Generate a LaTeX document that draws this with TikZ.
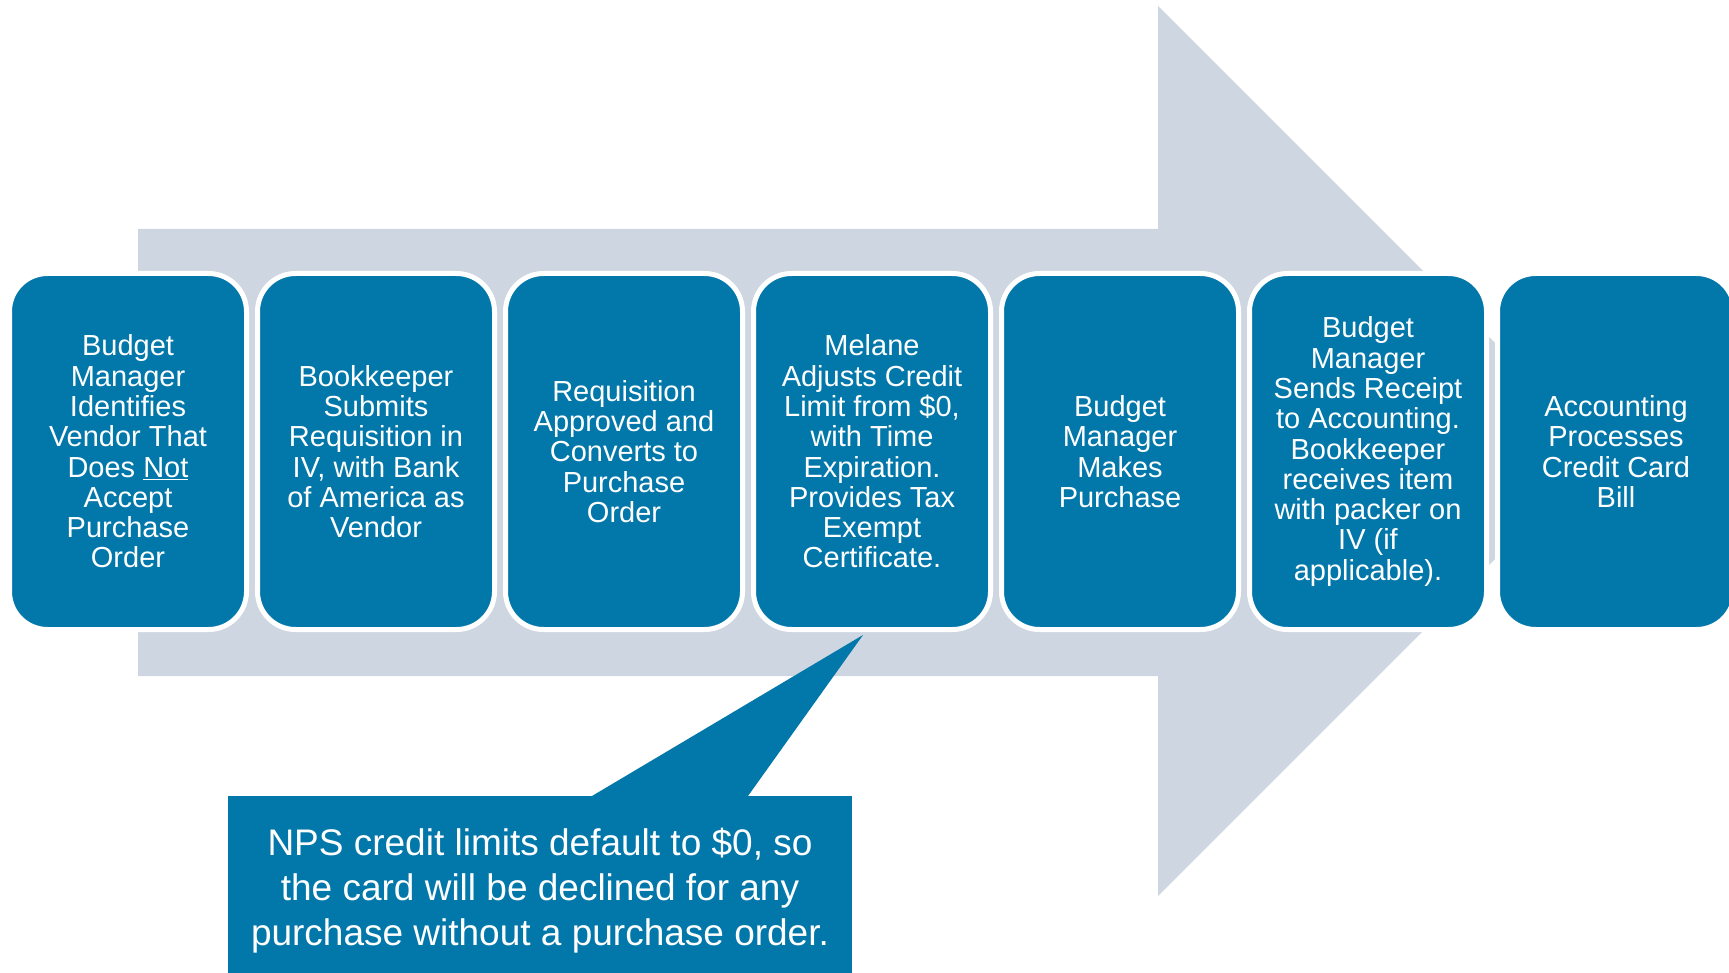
\documentclass[tikz,border=0pt]{standalone}
\usepackage{fontspec}
\setmainfont{Liberation Sans}
\definecolor{stepblue}{RGB}{2,119,170}
\definecolor{arrowgray}{RGB}{205,214,225}
\begin{document}
\begin{tikzpicture}[x=1pt,y=-1pt,
  stepbox/.style={rectangle, rounded corners=38pt, fill=stepblue, draw=white, line width=5pt,
    minimum width=237pt, minimum height=356pt, inner sep=0pt, align=center, text=white,
    font=\fontsize{29}{30.3}\selectfont},
  calloutbox/.style={rectangle, fill=stepblue, inner sep=0pt, minimum width=624pt, minimum height=194pt,
    anchor=north west},
  callouttext/.style={align=center, text=white, inner sep=0pt, font=\fontsize{37}{45}\selectfont}]
\useasboundingbox (0,0) rectangle (1729,973);
\clip (0,0) rectangle (1729,973);
% big background arrow
\fill[arrowgray] (138,229) -- (1158,229) -- (1158,6) -- (1603,451) -- (1158,896) -- (1158,676) -- (138,676) -- cycle;
% steps
\node[stepbox] (s1) at (128,451.5) {Budget\\Manager\\Identifies\\Vendor That\\Does \underline{Not}\\Accept\\Purchase\\Order};
\node[stepbox] (s2) at (376,451.5) {Bookkeeper\\Submits\\Requisition in\\IV, with Bank\\of America as\\Vendor};
\node[stepbox] (s3) at (624,451.5) {Requisition\\Approved and\\Converts to\\Purchase\\Order};
\node[stepbox] (s4) at (872,451.5) {Melane\\Adjusts Credit\\Limit from \$0,\\with Time\\Expiration.\\Provides Tax\\Exempt\\Certificate.};
\node[stepbox] (s5) at (1120,451.5) {Budget\\Manager\\Makes\\Purchase};
\node[stepbox] (s6) at (1368,451.5) {Budget\\Manager\\Sends Receipt\\to Accounting.\\Bookkeeper\\receives item\\with packer on\\IV (if\\applicable).};
\node[stepbox] (s7) at (1616,451.5) {Accounting\\Processes\\Credit Card\\Bill};
% callout
\node[calloutbox] (cb) at (228,796) {};
\coordinate (tip) at (863,635);
\fill[stepblue] ([xshift=364pt]cb.north west) -- (tip) -- ([xshift=520pt]cb.north west) -- cycle;
\node[callouttext] (ct) at (540,891) {NPS credit limits default to \$0, so\\the card will be declined for any\\purchase without a purchase order.};
\end{tikzpicture}
\end{document}
